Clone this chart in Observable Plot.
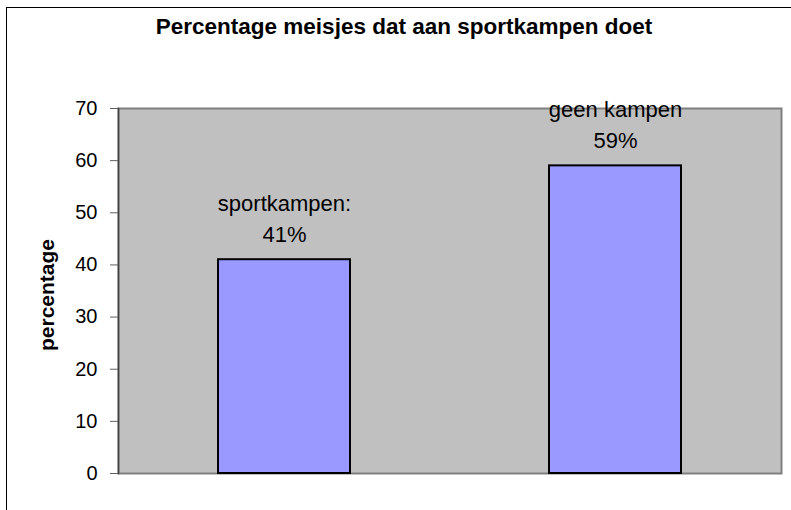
<!DOCTYPE html>
<html>
<head>
<meta charset="utf-8">
<script src="https://cdn.jsdelivr.net/npm/d3@7"></script>
<script src="https://cdn.jsdelivr.net/npm/@observablehq/plot@0.6"></script>
<style>
  html, body { margin: 0; padding: 0; background: #fff; overflow: hidden; }
  #wrap { position: relative; width: 791px; height: 510px; }
  #border { position: absolute; left: 6px; top: 7px; width: 900px; height: 700px; border: 1px solid #000; box-sizing: border-box; pointer-events: none; }
  svg { display: block; }
</style>
</head>
<body>
<div id="wrap"><div id="border"></div></div>
<script>
const title = "Percentage meisjes dat aan sportkampen doet";
const yLabel = "percentage";
const categories = ["sportkampen", "geen kampen"];
const values = [41, 59];
const barLabels = ["sportkampen:\n41%", "geen kampen\n59%"];
const yTicks = [0, 10, 20, 30, 40, 50, 60, 70];

const data = categories.map((c, i) => ({category: c, value: values[i], label: barLabels[i]}));

const chart = Plot.plot({
  width: 791,
  height: 510,
  marginLeft: 118,
  marginRight: 10,
  marginTop: 108,
  marginBottom: 37,
  style: {fontFamily: "'Liberation Sans', Arial, sans-serif", background: "transparent", overflow: "visible"},
  x: {domain: categories, paddingInner: 0.6, paddingOuter: 0.3, axis: null},
  y: {domain: [0, 70], axis: null},
  marks: [
    Plot.frame({fill: "#C0C0C0", stroke: "#808080", strokeWidth: 2}),
    Plot.frame({anchor: "left", stroke: "#404040", strokeWidth: 1.5}),
    Plot.axisY({ticks: yTicks, tickSize: 8, tickPadding: 13, fontSize: 20, stroke: "#606060", color: "#000", label: null, tickFormat: d => d}),
    Plot.barY(data, {x: "category", y: "value", fill: "#9999FF", stroke: "#000", strokeWidth: 2}),
    Plot.text(data, {x: "category", y: "value", text: "label", dy: -18, lineAnchor: "bottom", lineHeight: 1.38, fontSize: 22, fill: "#000"}),
    Plot.text([yLabel], {frameAnchor: "left", textAnchor: "middle", dx: -71, dy: 4, rotate: -90, fontSize: 21, fontWeight: "bold", fill: "#000"}),
    Plot.text([title], {frameAnchor: "top", dx: -46, dy: -90, fontSize: 22.5, fontWeight: "bold", fill: "#000"})
  ]
});
document.getElementById("wrap").prepend(chart);
</script>
</body>
</html>
